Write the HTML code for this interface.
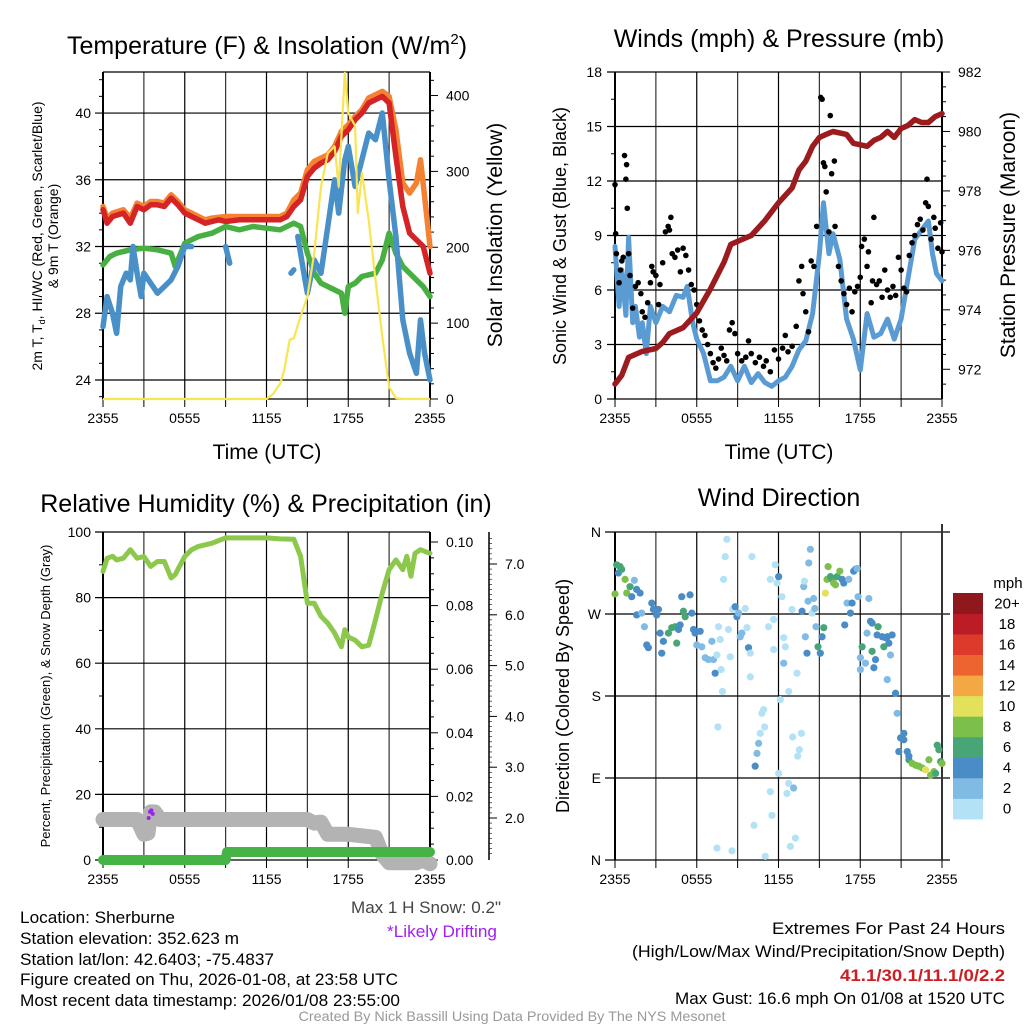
<!DOCTYPE html>
<html><head><meta charset="utf-8">
<style>
html,body{margin:0;padding:0;background:#fff;}
svg{display:block;font-family:"Liberation Sans",sans-serif;}
</style></head>
<body>
<svg id="fig" width="1024" height="1024" viewBox="0 0 1024 1024" xmlns="http://www.w3.org/2000/svg">
<rect width="1024" height="1024" fill="#fff"/>
<g id="layer"></g>
<text x="267" y="54" font-size="25" text-anchor="middle">Temperature (F) &amp; Insolation (W/m<tspan dy="-10" font-size="15">2</tspan><tspan dy="10">)</tspan></text>
<text x="779" y="47" font-size="25" text-anchor="middle">Winds (mph) &amp; Pressure (mb)</text>
<text x="266" y="512" font-size="25" text-anchor="middle">Relative Humidity (%) &amp; Precipitation (in)</text>
<text x="779" y="506" font-size="25" text-anchor="middle">Wind Direction</text>
<text x="267" y="459" font-size="21" text-anchor="middle">Time (UTC)</text>
<text x="779" y="459" font-size="21" text-anchor="middle">Time (UTC)</text>
<text transform="translate(42,236) rotate(-90)" font-size="14" text-anchor="middle">2m T, T<tspan font-size="9" dy="3">d</tspan><tspan dy="-3">, HI/WC (Red, Green, Scarlet/Blue)</tspan></text>
<text transform="translate(58,236) rotate(-90)" font-size="14" text-anchor="middle">&amp; 9m T (Orange)</text>
<text transform="translate(502,235) rotate(-90)" font-size="21" text-anchor="middle">Solar Insolation (Yellow)</text>
<text transform="translate(566,236) rotate(-90)" font-size="18" text-anchor="middle">Sonic Wind &amp; Gust (Blue, Black)</text>
<text transform="translate(1015,235) rotate(-90)" font-size="21" text-anchor="middle">Station Pressure (Maroon)</text>
<text transform="translate(50,696) rotate(-90)" font-size="13" text-anchor="middle">Percent, Precipitation (Green), &amp; Snow Depth (Gray)</text>
<text transform="translate(569,696) rotate(-90)" font-size="18" text-anchor="middle">Direction (Colored By Speed)</text>
<g font-size="17">
<text x="20" y="923" textLength="155" lengthAdjust="spacingAndGlyphs">Location: Sherburne</text>
<text x="20" y="944" textLength="219" lengthAdjust="spacingAndGlyphs">Station elevation: 352.623 m</text>
<text x="20" y="965" textLength="254" lengthAdjust="spacingAndGlyphs">Station lat/lon: 42.6403; -75.4837</text>
<text x="20" y="985" textLength="378" lengthAdjust="spacingAndGlyphs">Figure created on Thu, 2026-01-08, at 23:58 UTC</text>
<text x="20" y="1006" textLength="380" lengthAdjust="spacingAndGlyphs">Most recent data timestamp: 2026/01/08 23:55:00</text>
</g>
<text x="501" y="913" font-size="17" fill="#444" text-anchor="end" textLength="150" lengthAdjust="spacingAndGlyphs">Max 1 H Snow: 0.2"</text>
<text x="497" y="937" font-size="17" fill="#a020f0" text-anchor="end" textLength="110" lengthAdjust="spacingAndGlyphs">*Likely Drifting</text>
<g font-size="17" text-anchor="end">
<text x="1024" y="934" dx="-19" textLength="233" lengthAdjust="spacingAndGlyphs">Extremes For Past 24 Hours</text>
<text x="1024" y="957" dx="-19" textLength="373" lengthAdjust="spacingAndGlyphs">(High/Low/Max Wind/Precipitation/Snow Depth)</text>
<text x="1024" y="981" dx="-19" fill="#cc1f24" font-weight="bold" textLength="165" lengthAdjust="spacingAndGlyphs">41.1/30.1/11.1/0/2.2</text>
<text x="1024" y="1004" dx="-19" textLength="330" lengthAdjust="spacingAndGlyphs">Max Gust: 16.6 mph On 01/08 at 1520 UTC</text>
</g>
<text x="512" y="1021" font-size="14" fill="#999" text-anchor="middle" textLength="427" lengthAdjust="spacingAndGlyphs">Created By Nick Bassill Using Data Provided By The NYS Mesonet</text>
</svg>
<script>
// ---------- DATA ----------
const xTickLabels = ["2355","0555","1155","1755","2355"];
const tempTicks = [24,28,32,36,40];
const solarTicks = [0,100,200,300,400];
const windTicks = [0,3,6,9,12,15,18];
const presTicks = [972,974,976,978,980,982];
const rhTicks = [0,20,40,60,80,100];
const precipTicks = [0.00,0.02,0.04,0.06,0.08,0.10];
const snowTicks = [2,3,4,5,6,7];
const dirTicks = ["N","E","S","W","N"];
const speedBinLabels = ["0","2","4","6","8","10","12","14","16","18","20+"];
const speedBinColors = ["#b3e1f6","#7fbbe5","#4a8cc6","#48a575","#7cc04b","#e3e05b","#f4a844","#ee6430","#dd3a2b","#bc1c26","#8e181c"];

const redH = [0,0.3,0.7,1.5,2,2.5,3,3.5,4,4.5,5,5.5,6,6.5,7,7.5,8,8.5,9,10,11,12,13,13.5,14,14.5,15,15.5,16,16.5,17,17.5,18,18.5,19,19.5,20,20.5,21,21.5,22,22.5,23,23.5,24];
const redT = [34.2,33.4,33.8,34.0,33.4,34.4,34.2,34.5,34.5,34.4,34.9,34.5,34.0,33.8,33.6,33.4,33.5,33.6,33.5,33.6,33.6,33.6,33.6,33.8,34.4,34.8,36.2,36.7,37.0,37.2,37.7,38.6,39.0,39.6,40.0,40.6,40.8,41.0,40.6,37.4,34.4,32.8,32.4,32.0,30.4];
const orangeH = [0,0.3,0.7,1.5,2,2.5,3,3.5,4,4.5,5,5.5,6,6.5,7,7.5,8,9,10,11,12,13,13.5,14,14.5,15,15.5,16,16.5,17,17.5,18,18.5,19,19.5,20,20.5,21,21.5,22,22.5,23,23.3,23.6,24];
const orangeT = [34.4,33.7,34.0,34.2,33.7,34.6,34.4,34.7,34.7,34.6,35.1,34.7,34.2,34.0,33.8,33.6,33.7,33.8,33.8,33.8,33.8,33.8,34.0,34.8,35.2,36.6,37.1,37.3,37.5,38.0,38.9,39.3,39.8,40.2,40.9,41.1,41.3,41.0,39.0,35.8,35.2,35.8,37.2,35.0,32.0];
const greenH = [0,0.5,1,2,3,4,5,5.3,5.7,6,6.5,7,8,9,10,11,12,13,14,14.5,15,15.5,16,17,17.5,17.75,18,18.5,19,20,20.5,21,21.5,22,22.5,23,23.5,24];
const greenT = [30.9,31.4,31.6,31.8,31.9,31.8,31.6,30.8,31.6,32.2,32.4,32.6,32.8,33.2,33.0,33.2,33.1,33.0,33.4,33.2,31.6,30.4,29.8,29.4,29.2,28.0,29.6,29.8,30.2,30.4,31.2,32.8,31.6,30.8,30.4,30.0,29.6,29.0];
const blueH = [0,0.3,0.7,1,1.3,1.7,2,2.2,2.5,2.8,3,3.5,4,4.5,5,5.5,6,6.5,null,9,9.3,null,13.8,14.0,null,14.3,14.7,15,15.5,16,16.5,17,17.3,17.75,18,18.5,19,19.5,20,20.5,21,21.5,22,22.5,23,23.3,23.6,24];
const blueT = [27.2,29.0,28.0,26.8,29.6,30.4,30.0,32.0,30.4,29.0,30.4,29.8,29.2,29.6,30.0,30.8,32.0,32.0,null,32.0,31.0,null,30.4,30.6,null,32.6,30.6,29.2,31.2,30.4,33.2,36.0,34.0,37.2,38.0,35.6,37.2,38.8,38.4,40.0,36.0,32.6,27.6,25.6,24.4,27.6,25.6,24.0];
const solarH = [0,12,12.5,13,13.3,13.7,14,14.5,15,15.5,16,16.5,17,17.3,17.75,18,18.5,18.7,19,19.5,20,20.5,21,21.5,22,24];
const solarW = [0,0,7,20,38,78,80,109,135,192,280,324,333,280,430,377,360,245,298,236,157,82,16,1,0,0];

const presH = [0,0.5,1,1.5,2,3,3.5,4,5,6,7,8,8.5,9,10,11,12,13,13.5,14,14.5,15,15.5,16,17,17.5,18,18.5,19,19.5,20,20.5,21,21.5,22,22.5,23,23.5,24];
const presMb = [971.5,971.8,972.4,972.5,972.6,972.7,972.9,973.2,973.4,973.9,974.7,975.6,976.2,976.3,976.5,977.0,977.6,978.1,978.7,979.0,979.5,979.8,979.9,980.0,979.9,979.6,979.55,979.5,979.7,979.8,980.0,979.8,980.1,980.2,980.4,980.3,980.3,980.5,980.6];
const windH = [0,0.3,0.5,0.8,1,1.3,1.5,1.8,2,2.3,2.6,3,3.5,4,4.5,5,5.3,5.7,6,6.5,7,7.5,8,8.5,9,9.5,10,10.5,11,11.5,12,12.5,13,13.5,14,14.5,15,15.3,15.7,16,16.5,17,17.5,18,18.5,19,19.5,20,20.5,21,21.5,22,22.5,23,23.3,23.6,24];
const windMph = [8.4,5.1,7.1,4.6,8.9,4.2,5.1,3.4,4.2,2.5,5.1,4.2,5.1,4.8,5.7,5.6,6.2,4.2,3.3,2.5,1.0,1.0,1.2,1.8,1.0,1.8,0.9,1.4,0.9,0.7,1.0,1.2,1.8,2.7,3.2,4.7,8.0,10.8,8.0,9.1,7.7,4.4,3.3,1.6,4.7,3.4,3.6,4.4,3.3,4.4,6.6,8.8,9.3,9.8,8.0,6.9,6.5];
const gustH = [0,0.05,0.1,0.3,0.4,0.5,0.6,0.7,0.8,0.85,0.9,1,1.1,1.3,1.5,1.7,1.9,2,2.2,2.4,2.6,2.7,2.8,3,3.2,3.3,3.5,3.7,3.9,4,4.1,4.2,4.4,4.6,4.8,5,5.2,5.4,5.6,5.8,6,6.2,6.4,6.6,6.8,7,7.2,7.4,7.6,7.8,8,8.2,8.4,8.6,8.8,9,9.3,9.6,9.8,10,10.3,10.6,10.9,11.1,11.4,11.7,12,12.3,12.5,12.7,13,13.3,13.5,13.7,13.8,14,14.2,14.4,14.6,14.8,15.1,15.2,15.3,15.4,15.5,15.7,15.8,15.9,16.1,16.15,16.4,16.6,16.8,17,17.2,17.4,17.6,17.8,18,18.1,18.3,18.5,18.6,18.8,18.9,19,19.2,19.4,19.6,19.8,20,20.2,20.4,20.6,20.8,21,21.2,21.4,21.6,21.8,22,22.2,22.4,22.6,22.8,22.9,23,23.2,23.4,23.5,23.7,23.9,24];
const gustMph = [11.8,9.1,8,6.4,7.1,7.6,7.8,13.4,12.1,12.9,10.5,8,6.8,5,6.2,6.4,5.8,4.8,4.5,5.3,6.4,7.3,7,6.8,5.2,6.3,7.5,9.2,9.5,9.3,10,8,7.8,8.2,7,8.3,7.9,7.1,6.3,6,5.2,4.3,3.8,3.5,3,2.5,2,1.7,2.2,2.8,2.4,2.1,3.8,4.2,3.6,2.5,2.1,2.3,3.2,2.5,2,2.3,1.8,2.1,1.5,2.7,2.2,2.8,3.5,2.6,2.9,4,6.5,7.3,5.8,4.8,3.7,7.6,7.3,9.5,16.6,16.5,13,12.8,11.4,9.2,15.6,12.4,13.1,9.5,7.3,6.5,5.8,5.2,6.1,4.8,5.9,6.2,6.7,8.4,8.8,7.3,8.1,5.3,6.5,10,6.3,6.5,5.6,7.1,6,5.6,6.2,5.7,7.8,7.1,6.1,5.9,7.9,8.6,9,9.6,9.9,9.3,10.8,12.1,10.6,8.8,10,9.4,8.3,9.7,8.1];

const rhH = [0,0.3,0.7,1,1.5,2,2.5,3,3.5,4,4.5,5,5.3,6,6.5,7,8,9,10,11,12,13,14,14.5,15,15.5,16,16.5,17,17.5,17.75,18,18.5,19,19.5,20,20.5,21,21.5,22,22.3,22.6,22.9,23.3,24];
const rhPct = [88,92,92.6,91.5,92,94.6,92,92.5,89.5,91,91,86,87,92.6,94.6,95.6,96.6,98.2,98.2,98.2,98.2,97.9,97.8,92.6,78.3,78.3,74.3,72.2,69.2,65,70.2,68,67,65,65.5,73.2,81.4,88.5,91.5,88.5,92.6,86.5,93.5,94.6,93.5];
const snowH = [0,2.5,3,3.3,3.5,3.8,4.2,15,15.5,16,16.5,18,20,20.5,21,23,23.5,24];
const snowIn = [1.97,1.97,1.68,1.7,2.12,2.12,1.97,1.97,1.9,1.92,1.68,1.68,1.62,1.28,1.12,1.12,1.17,1.1];
const driftH = [3.35,3.45,3.55,3.65];
const driftIn = [2.0,2.12,2.15,2.08];
const precipH = [0,9,9.1,24];
const precipIn = [0,0,0.0025,0.0025];

const dirH = [0.12,0.37,0.25,0.49,0,0.74,0.86,1.1,1.42,1.23,1.59,1.84,1.59,1.96,2.16,2.33,2.45,2.7,2.82,3.06,3.19,3.31,3.55,3.43,3.92,4.17,4.41,4.53,4.66,4.78,4.9,5.02,5.15,5.51,5.64,5.76,5.88,6.0,6.25,6.37,6.62,6.86,7.11,7.23,7.35,7.48,7.6,7.72,7.79,7.89,7.55,7.97,8.09,8.21,8.33,8.46,8.63,8.82,8.95,9.07,9.19,9.31,9.56,9.68,9.8,9.93,10.05,9.93,11.27,11.4,11.64,11.76,11.89,12.01,12.25,12.38,12.5,11.64,12.38,12.75,12.13,12.99,13.36,13.73,13.85,13.9,13.97,14.09,14.17,14.22,14.34,14.46,14.58,14.66,14.75,14.9,15.07,15.2,15.32,15.44,15.56,15.64,15.81,15.93,16.05,16.18,16.3,16.5,16.67,16.79,16.86,17.03,17.16,17.28,17.4,17.52,17.65,17.77,17.84,18.63,18.14,18.01,18.01,18.38,18.5,18.75,18.87,18.87,19.12,19.0,19.24,19.31,19.61,19.73,19.85,19.98,20.1,20.22,20.34,19.98,20.59,20.71,20.96,21.2,21.2,20.83,21.45,21.57,21.81,22.06,22.3,22.55,22.79,23.04,23.16,23.41,23.53,23.65,23.77,23.9,24.0,21.57,10.54,10.29,10.42,10.66,10.78,10.91,10.98,10.2,11.4,11.52,12.01,12.62,12.75,13.11,12.87,13.24,13.41,13.53,13.68,13.04,11.03,7.48,8.58];
const dirDeg = [324,322,315,319,292,308,293,300,307,289,297,293,269,271,256,236,233,282,275,269,275,249,240,227,249,255,256,238,253,258,289,273,267,291,271,253,249,236,251,234,222,220,240,220,205,225,256,242,209,185,146,308,333,352,253,223,275,278,267,271,245,249,276,255,233,227,333,201,256,308,264,324,304,311,289,244,234,231,216,185,176,275,205,273,300,306,245,227,284,326,341,271,287,276,256,234,227,245,255,293,308,322,311,308,304,302,311,317,308,304,258,282,308,271,282,317,319,320,289,287,234,222,209,216,249,262,260,229,220,211,247,256,245,234,244,245,238,225,247,198,183,161,134,139,132,119,119,110,106,104,103,101,99,110,93,97,95,126,121,108,106,114,128,103,117,139,161,165,146,38,75,49,95,73,84,79,15,24,114,121,139,135,4,13,10];
const dirSpd = [7,7,5,7,9,9,9,7,3,5,5,5,5,3,3,5,5,5,5,5,5,5,5,5,7,7,7,7,5,5,5,7,7,5,5,5,5,3,5,3,3,3,3,3,5,1,1,1,1,1,1,1,1,1,1,1,1,5,5,3,3,3,1,1,5,1,1,1,1,1,1,1,1,5,1,1,1,1,3,1,1,1,1,5,3,1,3,5,3,3,3,1,3,3,3,7,5,5,7,10.5,9,9,7,7,9,9,7,9,5,5,5,3,3,5,5,5,5,3,3,3,7,3,3,3,3,5,5,7,5,5,5,7,5,7,5,5,5,3,5,3,5,3,5,5,5,5,5,7,9,9,9,9,10.5,9,9,9,7,7,7,7,9,5,3,5,3,1,1,1,1,1,1,1,1,1,1,3,1,1,1,1,1,1,1,1,1];

// ---------- HELPERS ----------
const NS = "http://www.w3.org/2000/svg";
const layer = document.getElementById('layer');
function el(tag, attrs, parent){
  const e = document.createElementNS(NS, tag);
  for (const k in attrs) e.setAttribute(k, attrs[k]);
  (parent||layer).appendChild(e);
  return e;
}
function lin(d0,d1,r0,r1){ return v => r0 + (v-d0)/(d1-d0)*(r1-r0); }
function pathFrom(hs, vs, fx, fy){
  let d = "", pen = false;
  for (let i=0;i<hs.length;i++){
    if (hs[i]===null || vs[i]===null){ pen=false; continue; }
    d += (pen?"L":"M") + fx(hs[i]).toFixed(1) + "," + fy(vs[i]).toFixed(1);
    pen = true;
  }
  return d;
}
function frame(x0,x1,y0,y1,name){
  const g = el('g',{});
  
  
  for (let i=0;i<=8;i++){
    const x = x0 + i*(x1-x0)/8;
    el('line',{x1:x,x2:x,y1:y0,y2:y1,stroke:i%2?"#333":"#000","stroke-width":i===0||i===8?2:1.2},g);
    el('line',{x1:x,x2:x,y1:y1,y2:y1+8,stroke:"#000","stroke-width":1},g);
  }
  xTickLabels.forEach((t,i)=>{
    const tx = el('text',{x:x0+i*(x1-x0)/4,y:y1+24,"font-size":14,"text-anchor":"middle"},g);
    tx.textContent = t;
  });
  return g;
}
function hgrid(g,x0,x1,y,len){ el('line',{x1:x0-(len||8),x2:x1,y1:y,y2:y,stroke:"#000","stroke-width":1.2},g); }
function leftLabel(g,x,y,t){ const tx=el('text',{x:x,y:y+5,"font-size":14,"text-anchor":"end"},g); tx.textContent=t; }
function rightTick(g,x,y,t,len,lab){
  el('line',{x1:x,x2:x+(len||8),y1:y,y2:y,stroke:"#000","stroke-width":1},g);
  if (t!==null){ const tx=el('text',{x:x+(lab||22),y:y+5,"font-size":14},g); tx.textContent=t; }
}

// ---------- PANEL 1: Temperature ----------
(function(){
  const X0=103,X1=430,Y0=72,Y1=399;
  const fx = lin(0,24,X0,X1), fy = lin(22.86,42.46,Y1,Y0), fs = lin(0,431,Y1,Y0);
  const g = frame(X0,X1,Y0,Y1,'temperature-panel');
  tempTicks.forEach(t=>{ hgrid(g,X0,X1,fy(t)); leftLabel(g,X0-12,fy(t),String(t)); });
  for (let t=23;t<=42;t++) if (t%4) el('line',{x1:X0-4,x2:X0,y1:fy(t),y2:fy(t),stroke:"#000"},g);
  el('line',{x1:X1,x2:X1,y1:Y0,y2:Y1,stroke:"#000","stroke-width":2},g);
  el('line',{x1:X0,x2:X1,y1:Y0,y2:Y0,stroke:"#000","stroke-width":1.2},g);
  el('line',{x1:X0,x2:X1,y1:Y1,y2:Y1,stroke:"#000","stroke-width":1.2},g);
  solarTicks.forEach(t=>rightTick(g,X1,fs(t),String(t),8,16));
  for (let t=20;t<=420;t+=20) if (t%100) rightTick(g,X1,fs(t),null,4);
  const o = el('path',{d:pathFrom(orangeH,orangeT,fx,fy),fill:"none",stroke:"#f58232","stroke-width":5.5,"stroke-linejoin":"round","stroke-linecap":"round"});
   
  const r = el('path',{d:pathFrom(redH,redT,fx,fy),fill:"none",stroke:"#d42426","stroke-width":5.5,"stroke-linejoin":"round","stroke-linecap":"round"});
   
  const gr = el('path',{d:pathFrom(greenH,greenT,fx,fy),fill:"none",stroke:"#48b043","stroke-width":5.5,"stroke-linejoin":"round","stroke-linecap":"round"});
   
  const b = el('path',{d:pathFrom(blueH,blueT,fx,fy),fill:"none",stroke:"#4a90c8","stroke-width":5.5,"stroke-linejoin":"round","stroke-linecap":"round"});
   
  const y = el('path',{d:pathFrom(solarH,solarW,fx,fs),fill:"none",stroke:"#f9e452","stroke-width":2.2,"stroke-linejoin":"round"});
   
})();

// ---------- PANEL 2: Winds & Pressure ----------
(function(){
  const X0=615,X1=942,Y0=72,Y1=399;
  const fx = lin(0,24,X0,X1), fy = lin(0,18,Y1,Y0), fp = lin(971,982,Y1,Y0);
  const g = frame(X0,X1,Y0,Y1,'winds-panel');
  windTicks.forEach(t=>{ hgrid(g,X0,X1,fy(t)); leftLabel(g,X0-13,fy(t),String(t)); });
  for (let t=1.5;t<18;t+=3) el('line',{x1:X0-4,x2:X0,y1:fy(t),y2:fy(t),stroke:"#000"},g);
  el('line',{x1:X1,x2:X1,y1:Y0,y2:Y1,stroke:"#000","stroke-width":2},g);
  presTicks.forEach(t=>rightTick(g,X1,fp(t),String(t),8,16));
  for (let t=971.5;t<982;t+=0.5) if (t%2) rightTick(g,X1,fp(t),null,4);
  const b = el('path',{d:pathFrom(windH,windMph,fx,fy),fill:"none",stroke:"#5b9bd3","stroke-width":5,"stroke-linejoin":"round","stroke-linecap":"round"});
   
  gustH.forEach((h,i)=>{
    const c = el('circle',{cx:fx(h),cy:fy(gustMph[i]),r:2.8,fill:"#000"});
    
    
  });
  const p = el('path',{d:pathFrom(presH,presMb,fx,fp),fill:"none",stroke:"#9b1b1e","stroke-width":5.5,"stroke-linejoin":"round","stroke-linecap":"round"});
   
})();

// ---------- PANEL 3: RH & Precip ----------
(function(){
  const X0=103,X1=430,Y0=532,Y1=860;
  const fx = lin(0,24,X0,X1), fy = lin(0,100,Y1,Y0), fpr = lin(0,0.1,Y1,542), fsn = lin(0,1,919.6,868.8);
  const g = frame(X0,X1,Y0,Y1,'humidity-panel');
  rhTicks.forEach(t=>{ hgrid(g,X0,X1,fy(t)); leftLabel(g,X0-12,fy(t),String(t)); });
  for (let t=10;t<100;t+=20) el('line',{x1:X0-4,x2:X0,y1:fy(t),y2:fy(t),stroke:"#000"},g);
  el('line',{x1:X1,x2:X1,y1:Y0,y2:Y1,stroke:"#000","stroke-width":2},g);
  precipTicks.forEach(t=>rightTick(g,X1,fpr(t),t.toFixed(2),8,16));
  for (let t=0.005;t<0.1;t+=0.005) if (Math.round(t*1000)%20) rightTick(g,X1,fpr(t),null,4);
  const SX=489;
  el('line',{x1:SX,x2:SX,y1:Y0,y2:Y1,stroke:"#000","stroke-width":1.5},g);
  snowTicks.forEach(t=>{ el('line',{x1:SX,x2:SX+8,y1:fsn(t),y2:fsn(t),stroke:"#000"},g);
    const tx=el('text',{x:SX+16,y:fsn(t)+5,"font-size":14},g); tx.textContent=t.toFixed(1); });
  for (let t=1.3;t<7.5;t+=0.1){ const yy=fsn(t); if (yy>Y0 && yy<Y1) el('line',{x1:SX,x2:SX+3,y1:yy,y2:yy,stroke:"#000","stroke-width":0.6},g); }
  const s = el('path',{d:pathFrom(snowH,snowIn,fx,fsn),fill:"none",stroke:"#b3b3b3","stroke-width":15,"stroke-linejoin":"round","stroke-linecap":"round"});
   
  driftH.forEach((h,i)=>{
    const c = el('circle',{cx:fx(h),cy:fsn(driftIn[i]),r:2,fill:"#a020f0"});
    
    
  });
  const pr = el('path',{d:pathFrom(precipH,precipIn,fx,fpr),fill:"none",stroke:"#46b347","stroke-width":10,"stroke-linejoin":"round","stroke-linecap":"round"});
   
  const rh = el('path',{d:pathFrom(rhH,rhPct,fx,fy),fill:"none",stroke:"#8cc84b","stroke-width":5,"stroke-linejoin":"round","stroke-linecap":"round"});
   
})();

// ---------- PANEL 4: Wind Direction ----------
(function(){
  const X0=615,X1=942,Y0=532,Y1=860;
  const fx = lin(0,24,X0,X1), fy = lin(0,360,Y1,Y0);
  const g = frame(X0,X1,Y0,Y1,'wind-direction-panel');
  dirTicks.forEach((t,i)=>{ const yy=fy(i*90); hgrid(g,X0,X1+8,yy,10); leftLabel(g,X0-14,yy,t); });
  el('line',{x1:X1,x2:X1,y1:Y0-8,y2:Y1,stroke:"#333","stroke-width":2},g);
  dirH.forEach((h,i)=>{
    const bin = Math.min(10, Math.floor(dirSpd[i]/2));
    const c = el('circle',{cx:fx(h),cy:fy(dirDeg[i]),r:3.6,fill:speedBinColors[bin]});
    
    
  });
  const cb = el('g',{});
  
  
  const CB0=593, CBH=(819-593)/11;
  speedBinLabels.forEach((lab,i)=>{
    const yy = CB0 + (10-i)*CBH;
    el('rect',{x:953,y:yy,width:30,height:CBH+0.4,fill:speedBinColors[i]},cb);
    const tx = el('text',{x:1007,y:yy+CBH/2+5,"font-size":15,"text-anchor":"middle"},cb);
    tx.textContent = lab;
  });
  const m = el('text',{x:1008,y:588,"font-size":15,"text-anchor":"middle"},cb);
  m.textContent = "mph";
})();
</script>
</body></html>
